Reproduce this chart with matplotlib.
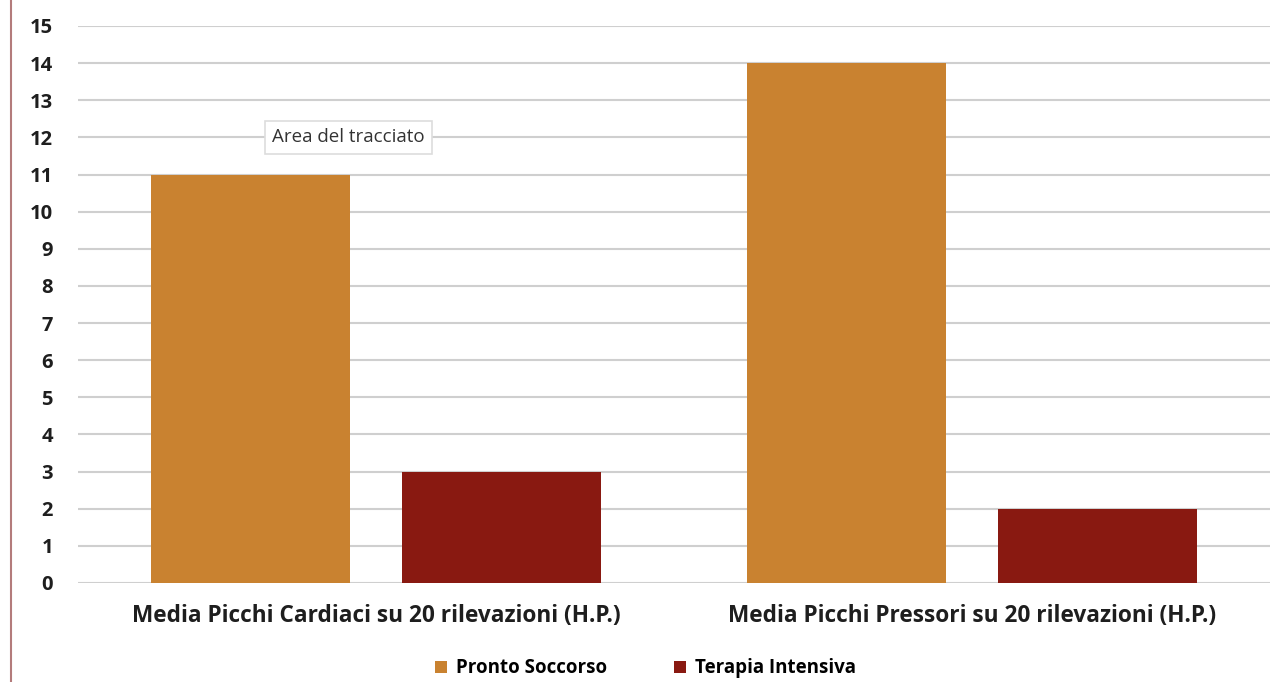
import matplotlib.pyplot as plt
import numpy as np
from matplotlib.lines import Line2D

categories = [
    "Media Picchi Cardiaci su 20 rilevazioni (H.P.)",
    "Media Picchi Pressori su 20 rilevazioni (H.P.)",
]
series_names = ["Pronto Soccorso", "Terapia Intensiva"]
pronto_soccorso = [11, 14]
terapia_intensiva = [3, 2]
yticks = list(range(0, 16))

color_ps = "#C98230"
color_ti = "#891911"
font = "Open Sans"

fig = plt.figure(figsize=(12.73, 6.82), dpi=100)
ax = fig.add_axes([0.0613, 0.1452, 0.9363, 0.8167])

x = np.arange(len(categories))
width = 0.334
offset = 0.21
ax.bar(x - offset, pronto_soccorso, width, color=color_ps, label=series_names[0], zorder=3)
ax.bar(x + offset, terapia_intensiva, width, color=color_ti, label=series_names[1], zorder=3)

ax.set_xlim(-0.5, 1.5)
ax.set_ylim(0, 15)
ax.set_yticks(yticks)
ax.set_yticklabels([str(v) for v in yticks], fontsize=14.5, fontweight="bold",
                   family=font, color="#1e1e1e")
ax.set_xticks(x)
ax.set_xticklabels(categories, fontsize=16.3, fontweight="bold", family=font,
                   color="#1e1e1e")
ax.tick_params(axis="y", length=0, pad=18)
ax.tick_params(axis="x", length=0, pad=15)
ax.grid(axis="y", color="#cfcfcf", lw=1.5, zorder=0)
for s in ax.spines.values():
    s.set_visible(False)

# hover tooltip over the plot area
ax.text(-0.046, 12.0, "Area del tracciato", fontsize=13.5, family=font,
        color="#333333", ha="center", va="center", zorder=5,
        bbox=dict(boxstyle="square,pad=0.4", fc="white", ec="#dddddd", lw=1.2))

fig.legend(loc="center", bbox_to_anchor=(0.507, 0.02), ncol=2, frameon=False,
           prop=dict(family=font, weight="bold", size=13.5),
           handlelength=0.65, handleheight=0.65, handletextpad=0.45,
           columnspacing=3.6)

fig.add_artist(Line2D([0.0087, 0.0087], [0, 1], transform=fig.transFigure,
                      color="#b37b7b", lw=1.5))

fig.savefig("out.png", dpi=100)
